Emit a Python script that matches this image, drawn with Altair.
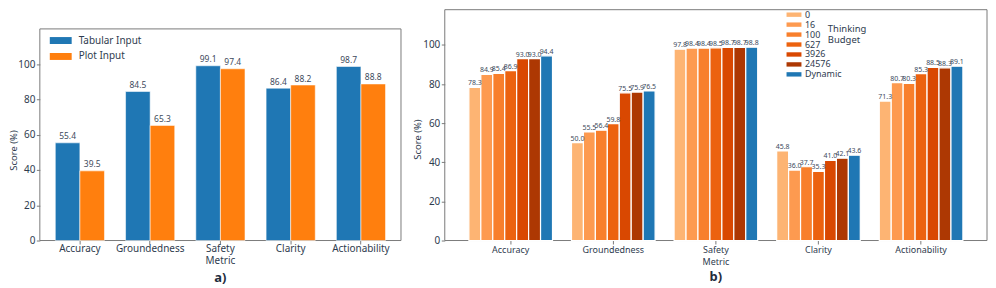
import altair as alt
import pandas as pd

# ---------------- data ----------------
metrics = ["Accuracy", "Groundedness", "Safety Metric", "Clarity", "Actionability"]

inputs = ["Tabular Input", "Plot Input"]
tabular_scores = [55.4, 84.5, 99.1, 86.4, 98.7]
plot_scores = [39.5, 65.3, 97.4, 88.2, 88.8]

budgets = ["0", "16", "100", "627", "3926", "24576", "Dynamic"]
accuracy_b = [78.3, 84.9, 85.4, 86.9, 93.0, 93.0, 94.4]
groundedness_b = [50.0, 55.5, 56.4, 59.8, 75.5, 75.9, 76.5]
safety_b = [97.8, 98.4, 98.4, 98.5, 98.7, 98.7, 98.8]
clarity_b = [45.8, 36.0, 37.7, 35.3, 41.0, 42.1, 43.6]
actionability_b = [71.3, 80.7, 80.3, 85.3, 88.5, 88.3, 89.1]

legend_b_title = ["Thinking", "Budget"]

colors_a = ["#1f77b4", "#ff7f0e"]
colors_b = ["#fdb473", "#fd9a50", "#f87f2c", "#ec620f", "#d94801", "#ad3803", "#1f77b4"]

rows_a = []
for s, vals in zip(inputs, [tabular_scores, plot_scores]):
    for m, v in zip(metrics, vals):
        rows_a.append({"metric": m, "series": s, "score": v})
df_a = pd.DataFrame(rows_a)

rows_b = []
for m, vals in zip(metrics, [accuracy_b, groundedness_b, safety_b, clarity_b, actionability_b]):
    for b, v in zip(budgets, vals):
        rows_b.append({"metric": m, "budget": b, "score": v})
df_b = pd.DataFrame(rows_b)

frame_df = pd.DataFrame({"k": [0]})
title_df = pd.DataFrame({"t": [legend_b_title]})

# ---------------- style ----------------
FONT = "Noto Sans"
TXT = "#2e3b4e"
VAL = "#3d4a5c"
GRAY = "#7a7a7a"
label_expr = "datum.label == 'Safety Metric' ? ['Safety', 'Metric'] : datum.label"

W_A, W_B, H = 363, 545, 232


def x_axis(fs, pad):
    return alt.Axis(title=None, labelAngle=0, labelExpr=label_expr, domain=False,
                    tickSize=3.5, tickColor=GRAY, labelFontSize=fs, labelColor=TXT,
                    labelFont=FONT, labelPadding=pad, labelLineHeight=12)


def y_axis(title_x, title_y):
    return alt.Axis(title="Score (%)", values=[0, 20, 40, 60, 80, 100], grid=False,
                    domain=False, tickSize=3.5, tickColor=GRAY, labelFontSize=10,
                    labelColor=TXT, labelFont=FONT, labelPadding=1.5,
                    titleFont=FONT, titleFontSize=9.5, titleFontWeight="normal",
                    titleColor=TXT, titleX=title_x, titleY=title_y,
                    titleAngle=270, titleAlign="center", titleBaseline="bottom")


# ---------------- panel a ----------------
xa = alt.X("metric:N", sort=metrics,
           scale=alt.Scale(paddingInner=0.3, paddingOuter=0.22), axis=x_axis(10, 0))
ya = alt.Y("score:Q", scale=alt.Scale(domain=[0, 130.9], nice=False, zero=True),
           axis=y_axis(-21, 141))
xoff_a = alt.XOffset("series:N", sort=inputs, scale=alt.Scale(paddingInner=0, paddingOuter=0))

bars_a = alt.Chart(df_a).mark_bar(stroke="white", strokeWidth=0.8, strokeOpacity=0.7).encode(
    x=xa, y=ya, xOffset=xoff_a,
    color=alt.Color("series:N", sort=inputs,
                    scale=alt.Scale(domain=inputs, range=colors_a),
                    legend=alt.Legend(title=None, orient="none", legendX=10, legendY=26,
                                      symbolType="M-1,-0.7L3.4,-0.7L3.4,0.7L-1,0.7Z",
                                      symbolSize=100, symbolStrokeWidth=0,
                                      labelOffset=19, rowPadding=6, padding=0,
                                      labelFont=FONT, labelFontSize=10, labelColor=TXT)),
)
text_a = alt.Chart(df_a).mark_text(baseline="bottom", dy=-1.5, fontSize=8.5,
                                   font=FONT, color=VAL).encode(
    x=xa, y=ya, xOffset=xoff_a, text=alt.Text("score:Q", format=".1f"))
frame_a = alt.Chart(frame_df).mark_rect(fill="transparent", stroke=GRAY, strokeWidth=1).encode(
    x=alt.value(0), x2=alt.value(W_A), y=alt.datum(0), y2=alt.datum(120))

panel_a = alt.layer(frame_a, bars_a, text_a).properties(
    width=W_A, height=H,
    title=alt.TitleParams("a)", orient="bottom", anchor="middle", frame="group",
                          fontSize=13, fontWeight="bold", font=FONT, color="#1f2d3d",
                          offset=6))

# ---------------- panel b ----------------
xb = alt.X("metric:N", sort=metrics,
           scale=alt.Scale(paddingInner=0.185, paddingOuter=0.235), axis=x_axis(9, 2))
yb = alt.Y("score:Q", scale=alt.Scale(domain=[0, 118], nice=False, zero=True),
           axis=y_axis(-22, 130))
xoff_b = alt.XOffset("budget:N", sort=budgets, scale=alt.Scale(paddingInner=0, paddingOuter=0))

bars_b = alt.Chart(df_b).mark_bar(stroke="white", strokeWidth=1.2).encode(
    x=xb, y=yb, xOffset=xoff_b,
    color=alt.Color("budget:N", sort=budgets,
                    scale=alt.Scale(domain=budgets, range=colors_b),
                    legend=alt.Legend(title=None, orient="none", legendX=343, legendY=0.5,
                                      symbolType="M-1,-0.55L2.75,-0.55L2.75,0.55L-1,0.55Z",
                                      symbolSize=64, symbolStrokeWidth=0,
                                      labelOffset=10, rowPadding=0, padding=0,
                                      labelFont=FONT, labelFontSize=9, labelColor=TXT)),
)
text_b = alt.Chart(df_b).mark_text(baseline="bottom", dy=-1, fontSize=7,
                                   font=FONT, color=VAL).encode(
    x=xb, y=yb, xOffset=xoff_b, text=alt.Text("score:Q", format=".1f"))
frame_b = alt.Chart(frame_df).mark_rect(fill="transparent", stroke=GRAY, strokeWidth=1).encode(
    x=alt.value(0), x2=alt.value(W_B), y=alt.value(H), y2=alt.value(0))
legend_title_b = alt.Chart(title_df).mark_text(
    align="left", baseline="top", fontSize=9.5, font=FONT, color=TXT, lineHeight=11
).encode(x=alt.value(385), y=alt.value(14), text="t")

panel_b = alt.layer(frame_b, bars_b, text_b, legend_title_b).properties(
    width=W_B, height=H,
    title=alt.TitleParams("b)", orient="bottom", anchor="middle", frame="group",
                          fontSize=13, fontWeight="bold", font=FONT, color="#1f2d3d",
                          offset=4))

chart = alt.hconcat(panel_a, panel_b, spacing=10).resolve_scale(
    color="independent", x="independent", y="independent", xOffset="independent"
).properties(padding=0).configure_view(stroke="transparent")

chart.save("out.html", embed_options={"renderer": "svg", "actions": False})
